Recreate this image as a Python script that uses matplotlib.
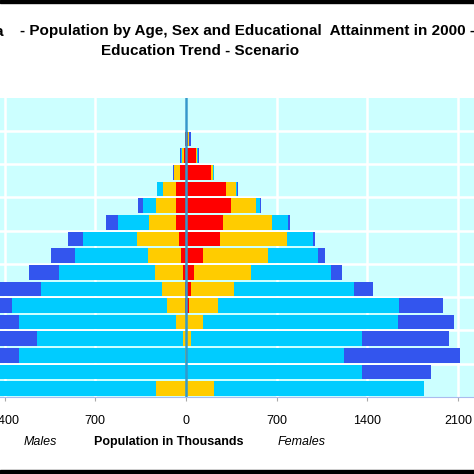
import matplotlib
matplotlib.use("Agg")
import matplotlib.pyplot as plt
import numpy as np
from matplotlib.patches import Rectangle

plt.rcParams['font.family'] = ['Liberation Sans', 'DejaVu Sans']

# age groups, youngest first (5-year groups)
ages = ["0-4", "5-9", "10-14", "15-19", "20-24", "25-29", "30-34", "35-39",
        "40-44", "45-49", "50-54", "55-59", "60-64", "65-69", "70-74",
        "75-79", "80-84", "85+"]

# thousands, by education level
f_none = [0, 0, 0, 0, 0, 23, 36, 62, 134, 262, 288, 347, 309, 193, 77, 15, 0, 0]
f_prim = [218, 0, 10, 36, 134, 221, 337, 440, 497, 514, 373, 193, 75, 13, 8, 5, 0, 0]
f_sec = [1620, 1361, 1212, 1324, 1500, 1399, 923, 617, 391, 206, 128, 31, 12, 13, 8, 5, 0, 0]
f_ter = [0, 530, 893, 671, 434, 342, 144, 82, 51, 13, 15, 8, 8, 0, 8, 10, 0, 0]

m_none = [0, 0, 0, 0, 0, 8, 8, 21, 39, 54, 77, 77, 77, 46, 15, 5, 0, 0]
m_prim = [231, 0, 10, 26, 77, 139, 175, 218, 257, 322, 208, 154, 98, 44, 15, 3, 0, 0]
m_sec = [1700, 1550, 1276, 1124, 1209, 1196, 938, 738, 561, 417, 237, 103, 46, 6, 5, 0, 0, 0]
m_ter = [0, 380, 800, 850, 560, 420, 360, 231, 185, 120, 95, 34, 0, 6, 10, 3, 0, 0]

colors = ["#FF0000", "#FFCC00", "#00CCFF", "#3355EE"]

fig = plt.figure(figsize=(4.74, 4.74), dpi=100)
ax = fig.add_axes([-0.2637, 0.1624, 1.3122, 0.6319])
ax.set_facecolor("#CCFFFF")

y = np.arange(len(ages)) * 5 + 2.5
h = 4.4

left = np.zeros(len(ages))
for vals, c in zip([f_none, f_prim, f_sec, f_ter], colors):
    v = np.array(vals, dtype=float)
    ax.barh(y, v, height=h, left=left, color=c, zorder=2)
    left += v

left = np.zeros(len(ages))
for vals, c in zip([m_none, m_prim, m_sec, m_ter], colors):
    v = np.array(vals, dtype=float)
    ax.barh(y, -v, height=h, left=-left, color=c, zorder=2)
    left += v

ax.axvline(0, color="#3399CC", lw=1.8, zorder=3)

ax.set_xlim(-2400, 2400)
ax.set_ylim(0, 90)
xt = [-2100, -1400, -700, 0, 700, 1400, 2100]
ax.set_xticks(xt)
ax.set_xticklabels([str(abs(t)) for t in xt], fontsize=9)
ax.set_yticks(np.arange(10, 90, 10))
ax.set_yticklabels([])
ax.grid(True, color="white", lw=1.8, zorder=1)
ax.set_axisbelow(True)
ax.tick_params(axis="x", length=3, color="#aaaaaa", pad=10)
ax.tick_params(axis="y", length=0)
for s in ["top", "right", "left"]:
    ax.spines[s].set_visible(False)
ax.spines["bottom"].set_color("#aabbee")

fig.text(40 / 474, 1 - 442 / 474, "Males", style="italic", fontsize=9,
         ha="center", va="center")
fig.text(168.5 / 474, 1 - 442 / 474, "Population in Thousands", weight="bold",
         fontsize=9, ha="center", va="center")
fig.text(301.5 / 474, 1 - 442 / 474, "Females", style="italic", fontsize=9,
         ha="center", va="center")

# title (left part is cropped in the source image)
fig.text(3 / 474, 1 - 31.5 / 474, "a", weight="bold", fontsize=11,
         ha="right", va="center")
fig.text(20 / 474, 1 - 31.5 / 474,
         "- Population by Age, Sex and Educational  Attainment in 2000 -",
         weight="bold", fontsize=11, ha="left", va="center")
fig.text(200.5 / 474, 1 - 51 / 474, "Education Trend - Scenario",
         weight="bold", fontsize=11, ha="center", va="center")

fig.add_artist(Rectangle((0, 1 - 2.5 / 474), 1, 2.5 / 474, color="black",
                         transform=fig.transFigure))
fig.add_artist(Rectangle((0, 0), 1, 4 / 474, color="black",
                         transform=fig.transFigure))

fig.savefig("out.png", dpi=100)
